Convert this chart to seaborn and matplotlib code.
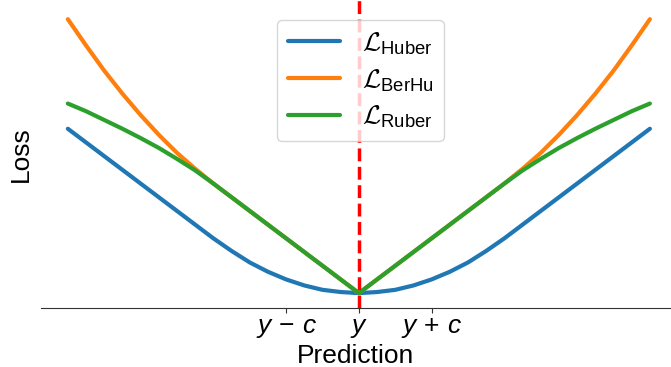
import matplotlib
matplotlib.use("Agg")
import matplotlib.pyplot as plt
import seaborn as sns

# Prediction offsets (in units of c) and loss values
x = [-4.0, -3.75, -3.5, -3.25, -3.0, -2.75, -2.5, -2.25, -2.0, -1.75, -1.5, -1.25,
     -1.0, -0.75, -0.5, -0.25, 0.0, 0.25, 0.5, 0.75, 1.0, 1.25, 1.5, 1.75,
     2.0, 2.25, 2.5, 2.75, 3.0, 3.25, 3.5, 3.75, 4.0]

huber = [3.0, 2.75, 2.5, 2.25, 2.0, 1.75, 1.5, 1.25, 1.0, 0.77, 0.56, 0.39,
         0.25, 0.14, 0.06, 0.02, 0.0, 0.02, 0.06, 0.14, 0.25, 0.39, 0.56, 0.77,
         1.0, 1.25, 1.5, 1.75, 2.0, 2.25, 2.5, 2.75, 3.0]

berhu = [5.0, 4.52, 4.06, 3.64, 3.25, 2.89, 2.56, 2.27, 2.0, 1.75, 1.5, 1.25,
         1.0, 0.75, 0.5, 0.25, 0.0, 0.25, 0.5, 0.75, 1.0, 1.25, 1.5, 1.75,
         2.0, 2.27, 2.56, 2.89, 3.25, 3.64, 4.06, 4.52, 5.0]

ruber = [3.46, 3.32, 3.16, 3.0, 2.83, 2.65, 2.45, 2.24, 2.0, 1.75, 1.5, 1.25,
         1.0, 0.75, 0.5, 0.25, 0.0, 0.25, 0.5, 0.75, 1.0, 1.25, 1.5, 1.75,
         2.0, 2.24, 2.45, 2.65, 2.83, 3.0, 3.16, 3.32, 3.46]

tick_pos = [-1, 0, 1]
tick_labels = [r"$y\,-\,c$", r"$y$", r"$y\,+\,c$"]

sns.set_style("white")
plt.rcParams["font.family"] = ["Liberation Sans", "DejaVu Sans"]
plt.rcParams["mathtext.fontset"] = "custom"
plt.rcParams["mathtext.rm"] = "Liberation Sans"
plt.rcParams["mathtext.it"] = "Liberation Sans:italic"
plt.rcParams["mathtext.cal"] = "cmsy10"
plt.rcParams["text.color"] = "black"
plt.rcParams["axes.labelcolor"] = "black"
plt.rcParams["xtick.color"] = "black"

fig = plt.figure(figsize=(6.71, 3.67), dpi=100)
ax = fig.add_axes([0.061, 0.161, 0.939, 0.839])

sns.lineplot(x=x, y=huber, ax=ax, color="tab:blue", lw=3, label=r"$\mathcal{L}_{\rm Huber}$")
sns.lineplot(x=x, y=berhu, ax=ax, color="tab:orange", lw=3, label=r"$\mathcal{L}_{\rm BerHu}$")
sns.lineplot(x=x, y=ruber, ax=ax, color="tab:green", lw=3, label=r"$\mathcal{L}_{\rm Ruber}$")
ax.axvline(0, color="red", ls="--", lw=2.5)

ax.set_xlim(-4.37, 4.29)
ax.set_ylim(-0.27, 5.35)
ax.set_xticks(tick_pos)
ax.set_xticklabels(tick_labels, fontsize=19)
ax.set_yticks([])
ax.tick_params(axis="x", bottom=True, length=3.5, color="#333333", pad=2)
ax.set_xlabel("Prediction", fontsize=19, labelpad=3)
ax.set_ylabel("Loss", fontsize=19, labelpad=6)
sns.despine(ax=ax, left=True)
ax.spines["bottom"].set_color("#333333")

ax.legend(loc="upper center", bbox_to_anchor=(0.507, 0.935), borderaxespad=0,
          fontsize=19, handlelength=2.0, labelspacing=0.4, frameon=True,
          framealpha=0.8, edgecolor="0.8", fancybox=True)

fig.savefig("out.png", dpi=100)
